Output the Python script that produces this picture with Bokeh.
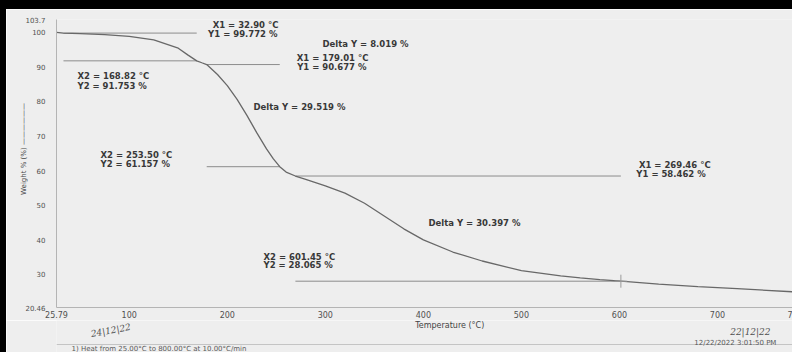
from bokeh.plotting import figure
from bokeh.models import ColumnDataSource, FixedTicker, Spacer, Range1d
from bokeh.layouts import column, row
from bokeh.core.properties import value
from bokeh.embed import file_html
from bokeh.resources import INLINE

# ---- TGA curve ----
temp_c = [25.79, 32.90, 50, 75, 100, 125, 150, 160, 168.82, 174, 179.01,
          190, 200, 210, 220, 230, 240, 247, 253.50, 260, 269.46,
          280, 300, 320, 340, 360, 380, 400, 430, 460, 500,
          540, 560, 580, 601.45, 640, 680, 720, 776.5]
weight_pct = [99.95, 99.772, 99.6, 99.3, 98.8, 97.8, 95.4, 93.4, 91.753, 91.2, 90.677,
              87.8, 84.6, 80.6, 76.0, 71.0, 66.3, 63.4, 61.157, 59.6, 58.462,
              57.5, 55.6, 53.5, 50.6, 46.9, 43.2, 40.0, 36.5, 33.9, 31.1,
              29.6, 29.0, 28.5, 28.065, 27.2, 26.5, 25.9, 25.0]

# ---- step-change cursor lines (X1 -> X2 at Y level) ----
step_x_start = [32.90, 32.90, 179.01, 179.01, 269.46, 269.46]
step_x_end = [168.82, 168.82, 253.50, 253.50, 601.45, 601.45]
step_y = [99.772, 91.753, 90.677, 61.157, 58.462, 28.065]

cross_T = [601.45]
cross_W = [28.065]

# ---- annotation texts ----
ann_left_text = ["X2 = 168.82 °C", "Y2 = 91.753 %", "Delta Y = 8.019 %",
                 "Delta Y = 29.519 %", "X2 = 253.50 °C", "Y2 = 61.157 %",
                 "Delta Y = 30.397 %", "X2 = 601.45 °C", "Y2 = 28.065 %"]
ann_left_T = [47.2, 47.2, 297.1, 226.7, 70.7, 70.7, 405.2, 236.9, 236.9]
ann_left_W = [87.23, 84.34, 96.76, 78.27, 64.68, 62.08, 44.74, 35.06, 32.60]

ann_right_text = ["X1 = 32.90 °C", "Y1 = 99.772 %", "X1 = 179.01 °C",
                  "Y1 = 90.677 %", "X1 = 269.46 °C", "Y1 = 58.462 %"]
ann_right_T = [252.2, 251.2, 344.0, 342.0, 693.0, 688.0]
ann_right_W = [101.97, 99.51, 92.43, 89.83, 61.65, 59.05]

# ---- ticks ----
x_ticks = [25.79, 100, 200, 300, 400, 500, 600, 700, 774]
x_tick_labels = ["25.79", "100", "200", "300", "400", "500", "600", "700", "7"]
y_ticks = [20.46, 30, 40, 50, 60, 70, 80, 90, 100, 103.7]
y_tick_labels = ["20.46", "30", "40", "50", "60", "70", "80", "90", "100", "103.7"]

# ---- page texts below the plot ----
x_title = "Temperature (°C)"
footer_text = ["1)  Heat from 25.00°C to 800.00°C at 10.00°C/min", "12/22/2022 3:01:50 PM"]
footer_x = [16, 725]
footer_y = [3.5, 10]
footer_align = ["left", "center"]
hand_text = ["24|12|22", "22|12|22"]
hand_x = [58, 741]
hand_y = [22, 21]
hand_angle = [0.18, 0.0]

BG = "#eeeeee"
TXT = "#383838"

p = figure(width=786, height=311, x_range=(25.79, 776.5), y_range=(20.46, 103.7),
           output_backend="svg", toolbar_location=None,
           min_border_left=50, min_border_right=0, min_border_top=10, min_border_bottom=13)
p.background_fill_color = BG
p.border_fill_color = BG
p.outline_line_color = None
p.grid.visible = False

for ax in (p.xaxis[0], p.yaxis[0]):
    ax.axis_line_color = "#b4b4b4"
    ax.major_tick_in = 0
    ax.major_tick_out = 0
    ax.minor_tick_line_color = None
    ax.major_label_text_font = "DejaVu Sans"
    ax.major_label_text_color = "#505050"
    ax.axis_label_text_font = "DejaVu Sans"
    ax.axis_label_text_font_style = "normal"
    ax.axis_label_text_color = "#444444"

p.xaxis.ticker = FixedTicker(ticks=x_ticks)
p.xaxis.major_label_overrides = dict(zip(x_ticks, x_tick_labels))
p.xaxis.major_label_text_font_size = "8px"
p.xaxis.major_label_standoff = 3

p.yaxis.ticker = FixedTicker(ticks=y_ticks)
p.yaxis.major_label_overrides = dict(zip(y_ticks, y_tick_labels))
p.yaxis.major_label_text_font_size = "7px"
p.yaxis.major_label_standoff = 11
p.yaxis.axis_label = "\u00a0" * 13 + "Weight % (%) \u2014\u2014\u2014\u2014\u2014\u2014"
p.yaxis.axis_label_text_font_size = "7px"
p.yaxis.axis_label_standoff = -6

# step lines
p.segment(x0=step_x_start, y0=step_y, x1=step_x_end, y1=step_y,
          line_color="#8c8c8c", line_width=1)
# curve
p.line(temp_c, weight_pct, line_color="#686868", line_width=1.3)
p.scatter(cross_T, cross_W, marker="cross", size=13, line_color="#9a9a9a", line_width=1)

src_l = ColumnDataSource(dict(x=ann_left_T, y=ann_left_W, t=ann_left_text))
src_r = ColumnDataSource(dict(x=ann_right_T, y=ann_right_W, t=ann_right_text))
common = dict(text="t", text_font=value("DejaVu Sans"), text_font_size="8.5px",
              text_font_style="bold", text_color=TXT, text_baseline="middle")
p.text(x="x", y="y", source=src_l, text_align="left", **common)
p.text(x="x", y="y", source=src_r, text_align="right", **common)

# ---- bottom strip of the printed page (pixel-like coordinates) ----
q = figure(width=786, height=32, x_range=Range1d(0, 786), y_range=Range1d(0, 32),
           output_backend="svg", toolbar_location=None, x_axis_type=None, y_axis_type=None,
           min_border_left=0, min_border_right=0, min_border_top=0, min_border_bottom=0)
q.background_fill_color = BG
q.border_fill_color = BG
q.outline_line_color = None
q.grid.visible = False
q.segment(x0=[0], y0=[8], x1=[786], y1=[8], line_color="#c4c4c4", line_width=1)
q.text(x=[420], y=[27], text=[x_title], text_align="center", text_baseline="middle",
       text_font=value("DejaVu Sans"), text_font_size="8px", text_color="#444444")
fsrc = ColumnDataSource(dict(x=footer_x, y=footer_y, t=footer_text, a=footer_align))
q.text(x="x", y="y", text="t", source=fsrc, text_align="a", text_baseline="middle",
       text_font=value("DejaVu Sans"), text_font_size="7px", text_color="#5a5a5a")
hsrc = ColumnDataSource(dict(x=hand_x, y=hand_y, t=hand_text, ang=hand_angle))
q.text(x="x", y="y", text="t", angle="ang", source=hsrc, text_align="center",
       text_baseline="middle", text_font=value("DejaVu Serif"), text_font_style="italic",
       text_font_size="9px", text_color="#505050")

top_band = Spacer(width=792, height=9, styles={"background-color": "#000000"})
left_band = Spacer(width=6, height=343, styles={"background-color": "#000000"})
layout = column(top_band, row(left_band, column(p, q, spacing=0), spacing=0), spacing=0)

open("out.html", "w").write(file_html(layout, INLINE))
